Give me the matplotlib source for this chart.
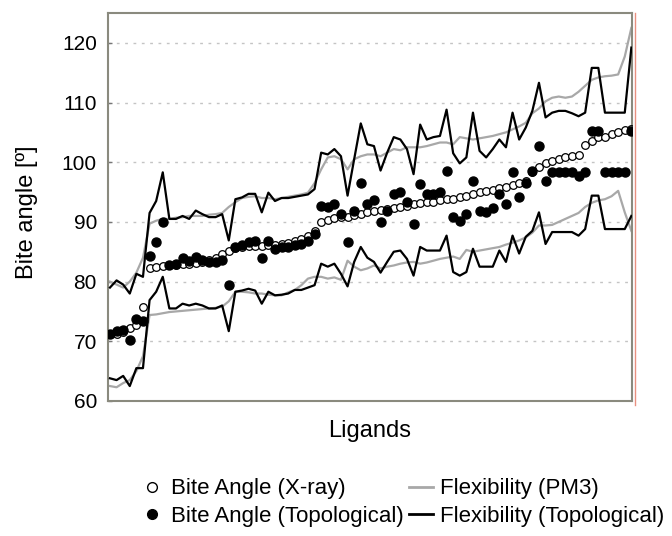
import numpy as np
import matplotlib.pyplot as plt
from matplotlib.lines import Line2D

# bite angles per ligand (sorted by X-ray value)
xray = [71.2, 71.3, 71.5, 72.2, 72.8, 75.8, 82.2, 82.4, 82.6, 82.7,
        82.8, 82.9, 83.0, 83.1, 83.3, 83.6, 84.0, 84.6, 85.2, 85.6,
        85.8, 85.9, 86.0, 86.0, 86.1, 86.2, 86.3, 86.5, 86.8, 87.2,
        87.7, 88.5, 90.0, 90.3, 90.6, 90.8, 90.9, 91.1, 91.3, 91.6,
        91.9, 92.0, 92.2, 92.3, 92.5, 92.7, 93.0, 93.2, 93.3, 93.4,
        93.6, 93.8, 93.9, 94.1, 94.4, 94.7, 95.0, 95.1, 95.4, 95.6,
        95.8, 96.2, 96.5, 96.9, 98.3, 99.2, 99.8, 100.2, 100.5, 100.8,
        101.0, 101.2, 102.8, 103.6, 104.2, 104.3, 104.8, 105.1, 105.4, 105.5]

topo = [71.2, 71.7, 71.9, 70.2, 73.8, 73.4, 84.3, 86.6, 90.0, 82.8,
        83.0, 84.0, 83.5, 84.2, 83.7, 83.3, 83.2, 83.6, 79.4, 85.8,
        86.2, 86.6, 86.8, 84.0, 86.8, 85.4, 85.8, 85.8, 86.1, 86.3,
        86.8, 88.0, 92.7, 92.5, 93.0, 91.3, 86.6, 91.9, 96.5, 93.0,
        93.6, 90.0, 91.9, 94.7, 95.0, 93.3, 89.7, 96.3, 94.7, 94.7,
        95.0, 98.5, 90.8, 90.2, 91.3, 96.9, 91.9, 91.6, 92.4, 94.7,
        93.0, 98.3, 94.1, 96.6, 98.6, 102.7, 96.9, 98.3, 98.3, 98.3,
        98.3, 97.7, 98.4, 105.2, 105.2, 98.3, 98.3, 98.3, 98.3, 105.2]

# flexibility ranges
pm3_hi = [80.0, 79.5, 79.0, 80.0, 81.5, 84.0, 89.7, 90.2, 90.5, 90.5,
          90.7, 90.8, 91.0, 91.0, 91.0, 91.2, 91.3, 91.5, 92.5, 93.3,
          94.0, 94.2, 94.3, 94.0, 94.0, 93.8, 94.0, 94.2, 94.4, 94.6,
          94.9, 96.5, 98.8, 100.8, 101.0, 100.5, 98.8, 100.5, 101.0, 101.3,
          101.3, 101.0, 101.6, 102.2, 102.0, 102.5, 102.5, 102.5, 102.7, 103.0,
          103.3, 103.3, 103.0, 104.2, 104.0, 103.8, 104.0, 104.2, 104.4, 104.7,
          105.0, 105.5, 106.0, 106.6, 108.2, 109.0, 110.2, 110.8, 111.0, 110.8,
          111.0, 111.8, 112.8, 113.8, 114.2, 114.4, 114.5, 114.7, 117.7, 122.5]

pm3_lo = [62.5, 62.3, 63.0, 63.5, 65.0, 67.5, 74.4, 74.5, 74.7, 74.9,
          75.0, 75.1, 75.2, 75.3, 75.4, 75.5, 75.6, 75.8, 76.7, 78.3,
          78.3, 78.2, 78.0, 78.0, 77.8, 77.7, 77.7, 78.2, 78.6, 79.4,
          80.5, 80.8, 80.8, 80.5, 80.7, 80.3, 83.5, 82.5, 81.9, 82.2,
          82.7, 82.2, 82.5, 82.7, 83.0, 83.2, 83.3, 83.0, 83.2, 83.5,
          83.8, 84.0, 84.2, 83.8, 85.3, 85.0, 85.2, 85.4, 85.6, 85.8,
          86.2, 86.5, 86.9, 87.4, 88.2, 89.4, 89.4, 89.5, 90.0, 90.5,
          91.0, 91.5, 92.5, 93.2, 93.6, 93.8, 94.3, 95.2, 91.6, 88.5]

topo_hi = [79.0, 80.2, 79.5, 78.0, 81.3, 80.8, 91.5, 93.5, 98.3, 90.5,
           90.5, 91.0, 90.5, 91.9, 91.3, 90.8, 90.8, 91.3, 86.9, 93.8,
           94.1, 94.7, 94.7, 91.6, 94.9, 93.5, 94.0, 94.0, 94.2, 94.4,
           94.6, 95.5, 101.6, 101.3, 102.2, 101.0, 94.4, 100.5, 106.5, 103.0,
           102.7, 98.6, 101.6, 104.2, 103.8, 102.2, 98.0, 106.3, 103.8, 104.2,
           104.4, 108.8, 101.5, 99.8, 100.8, 108.3, 101.9, 100.8, 102.2, 103.8,
           102.5, 108.3, 103.8, 105.8, 108.6, 113.3, 107.5, 108.3, 108.6, 108.6,
           108.2, 107.7, 108.3, 115.8, 115.8, 108.3, 108.3, 108.3, 108.3, 119.2]

topo_lo = [63.8, 63.5, 64.2, 62.5, 65.5, 65.5, 76.9, 78.3, 80.8, 75.5,
           75.5, 76.3, 76.0, 76.3, 76.0, 75.5, 75.5, 76.0, 71.7, 78.3,
           78.5, 78.8, 78.5, 76.3, 78.3, 77.7, 77.8, 78.0, 78.6, 78.6,
           79.0, 79.4, 83.0, 82.5, 83.0, 81.3, 79.2, 83.3, 85.8, 84.0,
           83.3, 81.5, 83.3, 85.0, 85.2, 83.8, 81.0, 85.8, 85.2, 85.2,
           85.2, 87.7, 81.6, 81.0, 81.6, 85.5, 82.5, 82.5, 82.5, 85.2,
           83.3, 87.7, 84.7, 87.5, 88.5, 91.6, 86.3, 88.3, 88.3, 88.3,
           88.3, 87.7, 88.8, 94.4, 94.4, 88.8, 88.8, 88.8, 88.8, 91.0]

ligands = np.arange(len(xray))

plt.rcParams['font.family'] = ['Liberation Sans', 'DejaVu Sans']
plt.rcParams['font.size'] = 15

fig = plt.figure(figsize=(6.72, 5.36), dpi=100)
ax = fig.add_axes([0.1607, 0.2519, 0.7798, 0.7239])

gray = '#a8a8a8'
ax.plot(ligands, pm3_hi, color=gray, lw=1.6, zorder=2)
ax.plot(ligands, pm3_lo, color=gray, lw=1.6, zorder=2)
ax.plot(ligands, topo_hi, color='black', lw=1.6, zorder=3)
ax.plot(ligands, topo_lo, color='black', lw=1.6, zorder=3)
ax.plot(ligands, xray, 'o', mfc='white', mec='black', ms=5.5, mew=0.9, zorder=4)
ax.plot(ligands, topo, 'o', color='black', ms=6.5, zorder=5)

ax.set_xlim(-0.3, 79.1)
ax.set_ylim(60, 125)
ax.set_yticks([60, 70, 80, 90, 100, 110, 120])
ax.set_xticks([])
ax.yaxis.grid(True, linestyle=(0, (2, 4)), color='#c4c4c4', lw=1)
ax.set_axisbelow(True)
ax.tick_params(axis='y', direction='in', length=3, width=1, color='#777777', pad=8)

for s in ax.spines.values():
    s.set_color('#8a8a7e')
    s.set_linewidth(1.5)
ax.plot([1.006, 1.006], [-0.01, 1.0], transform=ax.transAxes, color='#e89080',
        lw=1, clip_on=False)

fig.text(27 / 672, 1 - 212 / 536, 'Bite angle [º]', rotation=90,
         ha='center', va='center', fontsize=17)
fig.text(370 / 672, 1 - 431 / 536, 'Ligands', ha='center', va='center', fontsize=17)

handles = [
    Line2D([], [], ls='none', marker='o', mfc='white', mec='black', ms=7, mew=1),
    Line2D([], [], ls='none', marker='o', color='black', ms=7),
    Line2D([], [], color=gray, lw=2),
    Line2D([], [], color='black', lw=2),
]
labels = ['Bite Angle (X-ray)', 'Bite Angle (Topological)',
          'Flexibility (PM3)', 'Flexibility (Topological)']
fig.legend(handles, labels, ncol=2, loc='center', bbox_to_anchor=(0.598, 0.062),
           frameon=False, handlelength=1.1, handletextpad=0.3, columnspacing=0.25,
           labelspacing=0.3, fontsize=16)

fig.savefig('out.png', dpi=100)
